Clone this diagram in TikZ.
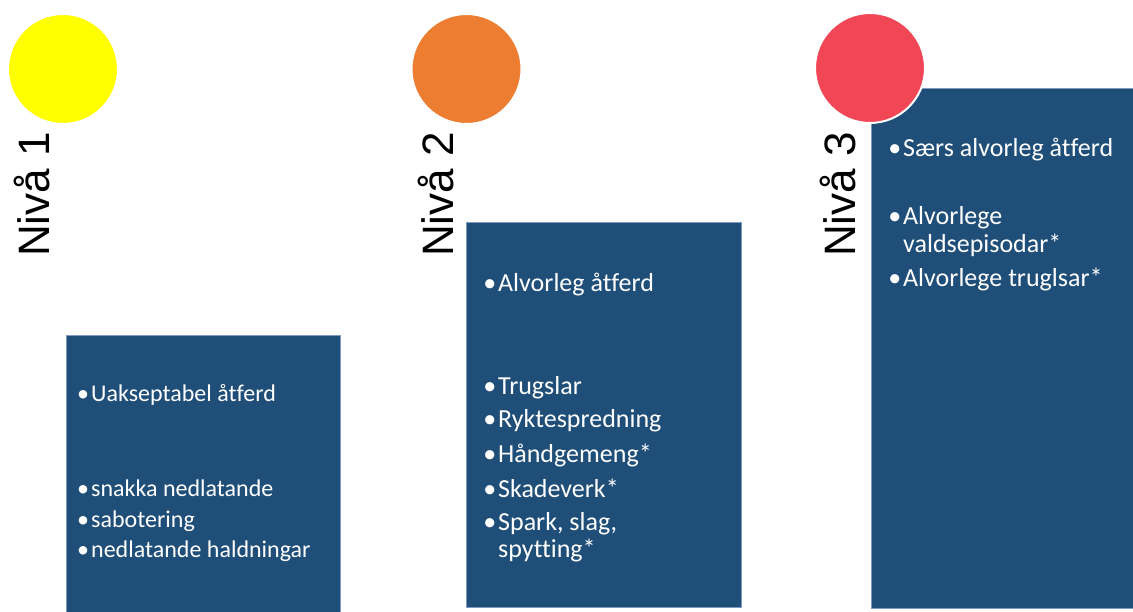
\documentclass[tikz,border=0pt]{standalone}
\usepackage{fontspec}
\setmainfont[Ligatures=NoCommon]{Carlito}
\newfontfamily\labelfont{Liberation Sans}
\definecolor{boxblue}{RGB}{31,78,121}
\definecolor{boxedge}{RGB}{125,155,190}
\definecolor{lvlyellow}{RGB}{255,255,0}
\definecolor{lvlorange}{RGB}{237,125,49}
\definecolor{lvlred}{RGB}{240,70,85}
\newcommand{\bul}{\llap{\textbullet\hspace{2pt}}}
\tikzset{
    levelbox/.style={fill=boxblue,draw=boxedge,line width=0.6pt},
    leveldot/.style={circle,draw=white,line width=2pt,minimum size=110pt,inner sep=0pt},
    levellabel/.style={rotate=90,anchor=base west,inner sep=0pt,
        font=\labelfont\fontsize{44}{44}\selectfont},
    item/.style={anchor=base west,inner sep=0pt,text=white}
}

\begin{document}
\begin{tikzpicture}[x=1pt,y=-1pt]
    \useasboundingbox (0,0) rectangle (1133,612);
    % boxes
    \draw[levelbox] (66,335) coordinate (b1) rectangle (340,612);
    \draw[levelbox] (466,222) coordinate (b2) rectangle (741,607);
    \draw[levelbox] (871,88) coordinate (b3) rectangle (1133,608);
    % dots and labels
    \node[leveldot,fill=lvlyellow] (dot1) at (63,69) {};
    \node[leveldot,fill=lvlorange] (dot2) at (466.5,69) {};
    \node[leveldot,fill=lvlred] (dot3) at (870,68) {};
    \node[levellabel] (niva1) at (49,257) {Nivå 1};
    \node[levellabel] (niva2) at (453,257) {Nivå 2};
    \node[levellabel] (niva3) at (855,257) {Nivå 3};
    % level 1
    \begin{scope}[every node/.style={item,font=\fontsize{24}{29}\selectfont}]
        \foreach \y/\t [count=\i] in {402/\bul Uakseptabel åtferd,496/\bul snakka nedlatande,
            527/\bul sabotering,557/\bul nedlatande haldningar}
            \node (one\i) at (91,\y) {\t};
    \end{scope}
    % level 2
    \begin{scope}[every node/.style={item,font=\fontsize{26}{31}\selectfont}]
        \foreach \y/\t [count=\i] in {292/\bul Alvorleg åtferd,395/\bul Trugslar,
            428/\bul Ryktespredning,462/\bul Håndgemeng*,497/\bul Skadeverk*,
            530/{\bul Spark, slag,},557/spytting*}
            \node (two\i) at (498,\y) {\t};
    % level 3
        \foreach \y/\t [count=\i] in {157/\bul Særs alvorleg åtferd,225/\bul Alvorlege,
            253/valdsepisodar*,287/\bul Alvorlege truglsar*}
            \node (three\i) at (903,\y) {\t};
    \end{scope}
\end{tikzpicture}
\end{document}
